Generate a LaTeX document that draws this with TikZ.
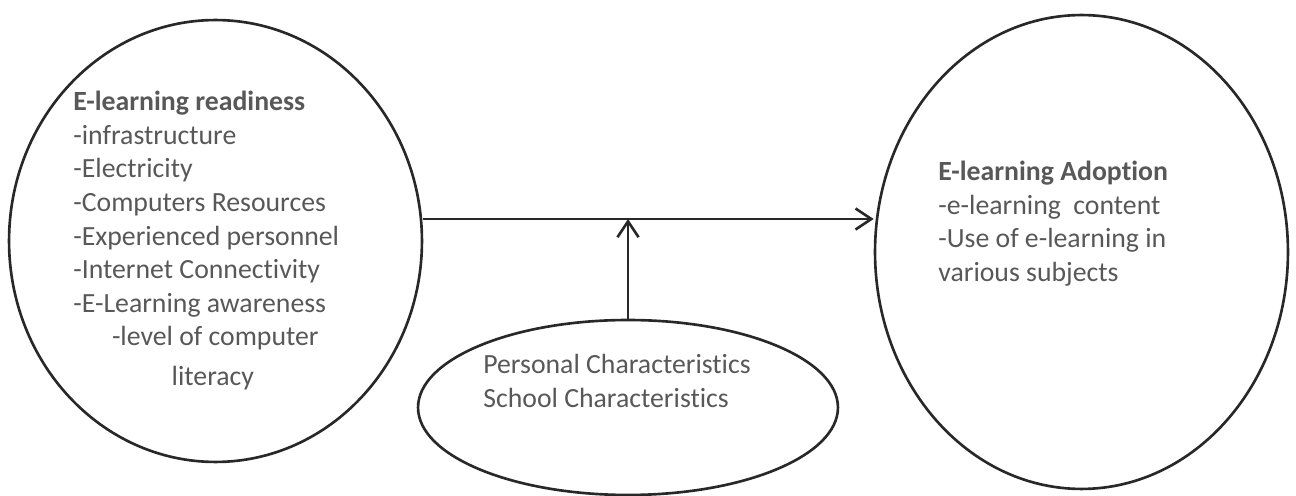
\documentclass[tikz,border=0pt]{standalone}
\usepackage{fontspec}
\setmainfont[Ligatures=NoCommon]{Carlito}
\usetikzlibrary{shapes.geometric,arrows.meta}
\definecolor{textgray}{RGB}{88,88,88}
\definecolor{linegray}{RGB}{40,40,40}

\begin{document}
\begin{tikzpicture}[x=0.02cm, y=-0.02cm, >={Straight Barb[length=9pt,width=12pt]},
    oval/.style={draw=linegray, line width=1.5pt, ellipse, inner sep=0pt},
    txt/.style={anchor=north west, inner sep=0pt, align=left, text=textgray, font=\fontsize{15.8}{19.1}\selectfont},
    link/.style={->, draw=linegray, line width=1.5pt}]
    \useasboundingbox (0,0) rectangle (1296,496);
    % the three ovals
    \node[oval, minimum width=8.26cm, minimum height=8.84cm] (ready) at (215.5,241) {};
    \node[oval, minimum width=8.26cm, minimum height=9.48cm] (adopt) at (1081.5,252) {};
    \node[oval, minimum width=8.4cm, minimum height=3.5cm] (traits) at (628,407.5) {};
    % their texts
    \node[txt] (readytext) at (73,91) {\textbf{E-learning readiness}\\-infrastructure\\-Electricity\\-Computers Resources\\-Experienced personnel\\-Internet Connectivity\\-E-Learning awareness\\\hspace*{22pt}-level of computer\\[3.5pt]\hspace*{56pt}literacy};
    \node[txt] (adopttext) at (938,161) {\textbf{E-learning Adoption}\\-e-learning\ \ content\\-Use of e-learning in\\various subjects};
    \node[txt] (traitstext) at (483,354) {Personal Characteristics\\School Characteristics};
    % arrows
    \coordinate (junction) at (630,219);
    \draw[link] (ready.east |- junction) -- (adopt.west |- junction);
    \draw[link] (traits.north) -- (traits.north |- junction);
\end{tikzpicture}
\end{document}
